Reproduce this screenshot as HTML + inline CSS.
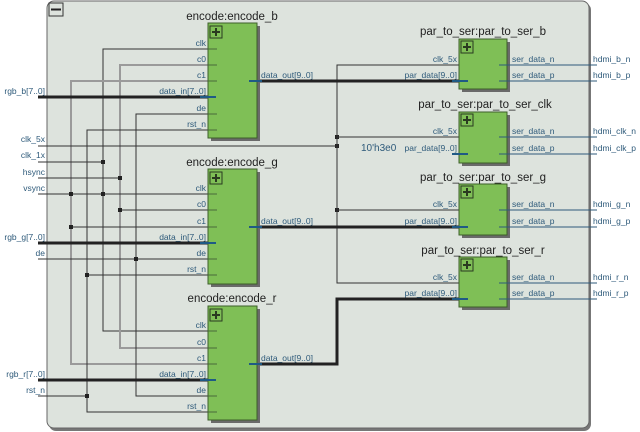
<!DOCTYPE html>
<html><head><meta charset="utf-8"><style>
html,body{margin:0;padding:0;background:#fff;}
svg{display:block;font-family:"Liberation Sans","DejaVu Sans",sans-serif;}
.pl{font-size:8.5px;fill:#2e5a7a;}
.t{font-size:11.5px;fill:#222;}
.w{stroke:#333;stroke-width:1;fill:none;}
.g{stroke:#9a9a9a;stroke-width:2;fill:none;}
.b{stroke:#222;stroke-width:3;fill:none;}
.s{stroke:#1f5a85;stroke-width:2;fill:none;}
.o{stroke:#2e5a7a;stroke-width:1;fill:none;}
</style></head><body>
<svg width="640" height="432" viewBox="0 0 640 432" xmlns="http://www.w3.org/2000/svg">
<rect x="49" y="3" width="542" height="428" rx="7" fill="#777"/>
<rect x="47" y="1" width="542" height="427" rx="7" fill="#dde3dd" stroke="#666" stroke-width="1"/>
<rect x="49" y="3" width="14" height="13" fill="#dde3dd" stroke="#333"/>
<line x1="51" y1="9.5" x2="61" y2="9.5" stroke="#222" stroke-width="2"/>

<path class="w" d="M208 49H103V331H208"/>
<path class="g" d="M208 65H120V348H208"/>
<path class="g" d="M208 81H71V364H208"/>
<path class="w" d="M208 114H136V396H208"/>
<path class="w" d="M208 130H87V412H208"/>
<path class="w" d="M38 162H103"/>
<path class="w" d="M38 178H120"/>
<path class="w" d="M38 194H208"/>
<path class="w" d="M120 210H208"/>
<path class="w" d="M71 227H208"/>
<path class="w" d="M38 259H208"/>
<path class="w" d="M87 275H208"/>
<path class="w" d="M38 396H87"/>
<path class="w" d="M38 146H337"/>
<path class="b" d="M38 97H208"/>
<path class="b" d="M38 243H208"/>
<path class="b" d="M38 380H208"/>
<g fill="#222">
<rect x="101" y="160" width="4" height="4"/><rect x="118" y="176" width="4" height="4"/>
<rect x="69" y="192" width="4" height="4"/><rect x="101" y="192" width="4" height="4"/>
<rect x="118" y="208" width="4" height="4"/><rect x="69" y="225" width="4" height="4"/>
<rect x="134" y="257" width="4" height="4"/><rect x="85" y="273" width="4" height="4"/>
<rect x="85" y="394" width="4" height="4"/>
<rect x="335" y="135" width="4" height="4"/><rect x="335" y="144" width="4" height="4"/>
<rect x="335" y="208" width="4" height="4"/>
</g>
<g class="pl" text-anchor="end">
<text x="45" y="94">rgb_b[7..0]</text>
<text x="45" y="142">clk_5x</text>
<text x="45" y="158">clk_1x</text>
<text x="45" y="175">hsync</text>
<text x="45" y="191">vsync</text>
<text x="45" y="240">rgb_g[7..0]</text>
<text x="45" y="256">de</text>
<text x="45" y="377">rgb_r[7..0]</text>
<text x="45" y="393">rst_n</text>
</g>

<path class="w" d="M459 65H337V283H459"/>
<path class="w" d="M337 137H459"/>
<path class="w" d="M337 210H459"/>
<path class="b" d="M250 81H459"/>
<path class="b" d="M250 227H459"/>
<path class="b" d="M250 364H337V299H459"/>
<path class="s" d="M452 154H468"/>
<text x="361" y="151" font-size="10" fill="#2e5a7a">10'h3e0</text>

<g>
<rect x="211" y="26" width="49" height="115" fill="#6a6a6a"/>
<rect x="208" y="23" width="49" height="115" fill="#7fbf56" stroke="#3d5f2a"/>
<rect x="211" y="172" width="49" height="115" fill="#6a6a6a"/>
<rect x="208" y="169" width="49" height="115" fill="#7fbf56" stroke="#3d5f2a"/>
<rect x="211" y="309" width="49" height="114" fill="#6a6a6a"/>
<rect x="208" y="306" width="49" height="114" fill="#7fbf56" stroke="#3d5f2a"/>
</g>
<g stroke="#2a3a20" fill="none">
<rect x="210" y="26" width="12" height="12"/><path d="M216 28V36M212 32H220" stroke-width="2"/>
<rect x="210" y="172" width="12" height="12"/><path d="M216 174V182M212 178H220" stroke-width="2"/>
<rect x="210" y="309" width="12" height="12"/><path d="M216 311V319M212 315H220" stroke-width="2"/>
</g>
<g stroke="#4a6a3a" stroke-width="1">
<path d="M208 49H217M208 65H217M208 81H217M208 114H217M208 130H217"/>
<path d="M208 194H217M208 210H217M208 227H217M208 259H217M208 275H217"/>
<path d="M208 331H217M208 348H217M208 364H217M208 396H217M208 412H217"/>
</g>
<path class="s" d="M200 97H216M200 243H216M200 380H216M249 81H262M249 227H262M249 364H262"/>
<g class="t" text-anchor="middle">
<text x="232" y="20">encode:encode_b</text>
<text x="232" y="166">encode:encode_g</text>
<text x="232" y="302">encode:encode_r</text>
</g>
<g class="pl" text-anchor="end">
<text x="206" y="46">clk</text><text x="206" y="62">c0</text><text x="206" y="78">c1</text><text x="206" y="94">data_in[7..0]</text><text x="206" y="111">de</text><text x="206" y="127">rst_n</text>
<text x="206" y="191">clk</text><text x="206" y="207">c0</text><text x="206" y="224">c1</text><text x="206" y="240">data_in[7..0]</text><text x="206" y="256">de</text><text x="206" y="272">rst_n</text>
<text x="206" y="328">clk</text><text x="206" y="345">c0</text><text x="206" y="361">c1</text><text x="206" y="377">data_in[7..0]</text><text x="206" y="393">de</text><text x="206" y="409">rst_n</text>
</g>
<g class="pl">
<text x="261" y="78">data_out[9..0]</text>
<text x="261" y="224">data_out[9..0]</text>
<text x="261" y="361">data_out[9..0]</text>
</g>

<g>
<rect x="462" y="42" width="48" height="50" fill="#6a6a6a"/>
<rect x="459" y="39" width="48" height="50" fill="#7fbf56" stroke="#3d5f2a"/>
<rect x="462" y="115" width="48" height="51" fill="#6a6a6a"/>
<rect x="459" y="112" width="48" height="51" fill="#7fbf56" stroke="#3d5f2a"/>
<rect x="462" y="187" width="48" height="51" fill="#6a6a6a"/>
<rect x="459" y="184" width="48" height="51" fill="#7fbf56" stroke="#3d5f2a"/>
<rect x="462" y="260" width="48" height="50" fill="#6a6a6a"/>
<rect x="459" y="257" width="48" height="50" fill="#7fbf56" stroke="#3d5f2a"/>
</g>
<g stroke="#2a3a20" fill="none">
<rect x="461" y="41" width="12" height="12"/><path d="M467 43V51M463 47H471" stroke-width="2"/>
<rect x="461" y="114" width="12" height="12"/><path d="M467 116V124M463 120H471" stroke-width="2"/>
<rect x="461" y="186" width="12" height="12"/><path d="M467 188V196M463 192H471" stroke-width="2"/>
<rect x="461" y="259" width="12" height="12"/><path d="M467 261V269M463 265H471" stroke-width="2"/>
</g>
<path class="s" d="M452 81H468M452 154H468M452 227H468M452 299H468"/>
<path class="o" d="M499 65H597M499 81H597M499 137H597M499 154H597M499 210H597M499 227H597M499 283H597M499 299H597"/>
<g class="t" text-anchor="middle">
<text x="483" y="35">par_to_ser:par_to_ser_b</text>
<text x="485" y="108">par_to_ser:par_to_ser_clk</text>
<text x="483" y="181">par_to_ser:par_to_ser_g</text>
<text x="483" y="254">par_to_ser:par_to_ser_r</text>
</g>
<g class="pl" text-anchor="end">
<text x="457" y="62">clk_5x</text><text x="457" y="78">par_data[9..0]</text>
<text x="457" y="134">clk_5x</text><text x="457" y="151">par_data[9..0]</text>
<text x="457" y="207">clk_5x</text><text x="457" y="224">par_data[9..0]</text>
<text x="457" y="280">clk_5x</text><text x="457" y="296">par_data[9..0]</text>
</g>
<g class="pl">
<text x="512" y="62">ser_data_n</text><text x="512" y="78">ser_data_p</text>
<text x="512" y="134">ser_data_n</text><text x="512" y="151">ser_data_p</text>
<text x="512" y="207">ser_data_n</text><text x="512" y="224">ser_data_p</text>
<text x="512" y="280">ser_data_n</text><text x="512" y="296">ser_data_p</text>
<text x="593" y="62">hdmi_b_n</text><text x="593" y="78">hdmi_b_p</text>
<text x="593" y="134">hdmi_clk_n</text><text x="593" y="151">hdmi_clk_p</text>
<text x="593" y="207">hdmi_g_n</text><text x="593" y="224">hdmi_g_p</text>
<text x="593" y="280">hdmi_r_n</text><text x="593" y="296">hdmi_r_p</text>
</g>
</svg>
</body></html>
